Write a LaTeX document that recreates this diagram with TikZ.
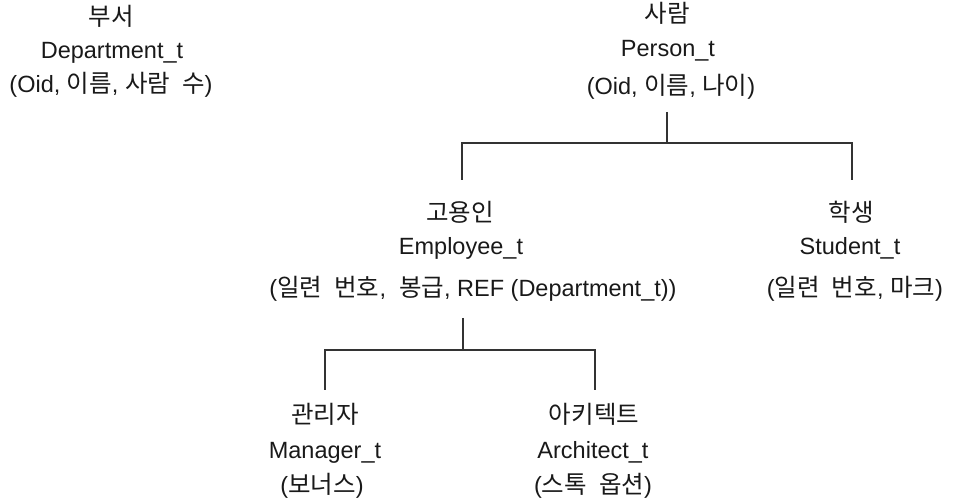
\documentclass[tikz,border=0pt]{standalone}
\usepackage{fontspec}
\setmainfont{Liberation Sans}
\newfontfamily\krfont[WordSpace=2.2]{Noto Sans CJK KR}
\newcommand\KR[1]{{\krfont\fontsize{24.5}{28}\selectfont #1}}
\begin{document}
\begin{tikzpicture}[x=1pt,y=-1pt,
  lbl/.style={anchor=base,inner sep=0pt,font=\fontsize{23.5}{28}\selectfont,text=black!90},
  tree/.style={line width=1.4pt,draw=black!80}]
\useasboundingbox (0,0) rectangle (953,502);
% Department
\node[lbl] (dk) at (111,26) {\KR{부서}};
\node[lbl] (dn) at (112,59) {Department\_t};
\node[lbl] (da) at (111,93) {(Oid, \KR{이름}, \KR{사람 수})};
% Person
\node[lbl] (pk) at (667,23) {\KR{사람}};
\node[lbl] (pn) at (668,57) {Person\_t};
\node[lbl] (pa) at (671,95) {(Oid, \KR{이름}, \KR{나이})};
% Employee
\node[lbl] (ek) at (460,222) {\KR{고용인}};
\node[lbl] (en) at (461,255) {Employee\_t};
\node[lbl] (ea) at (473,297) {(\KR{일련 번호},\hspace{13pt}\KR{봉급}, REF (Department\_t))};
% Student
\node[lbl] (sk) at (851,222) {\KR{학생}};
\node[lbl] (sn) at (850,255) {Student\_t};
\node[lbl] (sa) at (855,297) {(\KR{일련 번호}, \KR{마크})};
% Manager
\node[lbl] (mk) at (325,423) {\KR{관리자}};
\node[lbl] (mn) at (325,458) {Manager\_t};
\node[lbl] (ma) at (322,493) {(\KR{보너스})};
% Architect
\node[lbl] (ak) at (594,423) {\KR{아키텍트}};
\node[lbl] (an) at (593,458) {Architect\_t};
\node[lbl] (aa) at (593,493) {(\KR{스톡 옵션})};
% tree coordinates
\coordinate (p0) at (667,112);
\coordinate (p1) at (667,143);
\coordinate (e0) at (462,143);
\coordinate (e1) at (462,180);
\coordinate (s0) at (852,143);
\coordinate (s1) at (852,180);
\coordinate (q0) at (463,318);
\coordinate (q1) at (463,350);
\coordinate (m0) at (325,350);
\coordinate (m1) at (325,390);
\coordinate (a0) at (595,350);
\coordinate (a1) at (595,390);
\draw[tree] (p0) -- (p1);
\draw[tree] (e1) -- (e0) -- (s0) -- (s1);
\draw[tree] (q0) -- (q1);
\draw[tree] (m1) -- (m0) -- (a0) -- (a1);
\end{tikzpicture}
\end{document}
